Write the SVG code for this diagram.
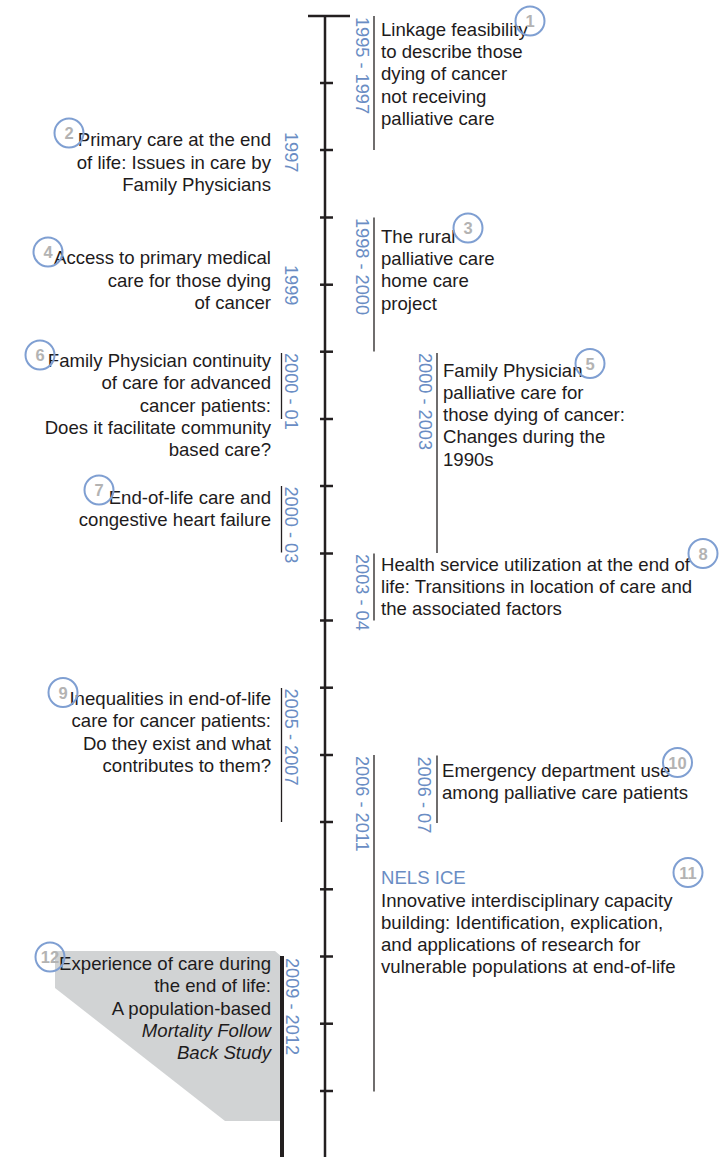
<svg xmlns="http://www.w3.org/2000/svg" width="723" height="1157" viewBox="0 0 723 1157">
<style>
  .t { font-family: "Liberation Sans", Arial, sans-serif; font-size: 18.6px; fill: #1e1b1c; }
  .r { text-anchor: end; }
  .i { font-style: italic; }
  .yr { font-family: "Liberation Sans", Arial, sans-serif; font-size: 18.2px; fill: #6a8dc4; }
  .nels { font-family: "Liberation Sans", Arial, sans-serif; font-size: 18.6px; fill: #6a8dc4; }
  .br { stroke: #231f20; stroke-width: 1.3; fill: none; }
  .ax { stroke: #231f20; stroke-width: 2.5; fill: none; }
  .tk { stroke: #231f20; stroke-width: 2.5; }
  .badge circle { fill: none; stroke: #7f9fd2; stroke-width: 2; }
  .badge text { font-family: "Liberation Sans", Arial, sans-serif; font-size: 16.5px; font-weight: bold; fill: #b3b3b3; text-anchor: middle; }
</style>
<rect width="723" height="1157" fill="#ffffff"/>

<g id="connectors">
  <line class="ax" x1="325" y1="16" x2="325" y2="1157"/>
  <line class="tk" x1="308" y1="16" x2="350" y2="16"/>
  <line class="tk" x1="320" y1="83" x2="333" y2="83"/>
  <line class="tk" x1="320" y1="150" x2="333" y2="150"/>
  <line class="tk" x1="320" y1="217.5" x2="333" y2="217.5"/>
  <line class="tk" x1="320" y1="284.7" x2="333" y2="284.7"/>
  <line class="tk" x1="320" y1="351.7" x2="333" y2="351.7"/>
  <line class="tk" x1="320" y1="419" x2="333" y2="419"/>
  <line class="tk" x1="320" y1="486" x2="333" y2="486"/>
  <line class="tk" x1="320" y1="553.5" x2="333" y2="553.5"/>
  <line class="tk" x1="320" y1="620.5" x2="333" y2="620.5"/>
  <line class="tk" x1="320" y1="687.7" x2="333" y2="687.7"/>
  <line class="tk" x1="320" y1="755" x2="333" y2="755"/>
  <line class="tk" x1="320" y1="822" x2="333" y2="822"/>
  <line class="tk" x1="320" y1="889.3" x2="333" y2="889.3"/>
  <line class="tk" x1="320" y1="956.5" x2="333" y2="956.5"/>
  <line class="tk" x1="320" y1="1023.7" x2="333" y2="1023.7"/>
  <line class="tk" x1="320" y1="1091" x2="333" y2="1091"/>
</g>

<g id="node1">
  <line class="br" x1="374" y1="16" x2="374" y2="150"/>
  <text class="yr" transform="translate(356,17) rotate(90)">1995 - 1997</text>
  <text class="t"><tspan x="381" y="36">Linkage feasibility</tspan><tspan x="381" y="58.2">to describe those</tspan><tspan x="381" y="80.4">dying of cancer</tspan><tspan x="381" y="102.6">not receiving</tspan><tspan x="381" y="124.8">palliative care</tspan></text>
  <g class="badge"><circle cx="530" cy="21" r="14.5"/><text x="530" y="27">1</text></g>
</g>

<g id="node2">
  <text class="yr" transform="translate(285,132) rotate(90)">1997</text>
  <text class="t r"><tspan x="271" y="146">Primary care at the end</tspan><tspan x="271" y="168.5">of life: Issues in care by</tspan><tspan x="271" y="191">Family Physicians</tspan></text>
  <g class="badge"><circle cx="69" cy="133" r="14.5"/><text x="69" y="139">2</text></g>
</g>

<g id="node3">
  <line class="br" x1="374" y1="217.5" x2="374" y2="351.5"/>
  <text class="yr" transform="translate(356,218) rotate(90)">1998 - 2000</text>
  <text class="t"><tspan x="381" y="243">The rural</tspan><tspan x="381" y="265.2">palliative care</tspan><tspan x="381" y="287.4">home care</tspan><tspan x="381" y="309.6">project</tspan></text>
  <g class="badge"><circle cx="468" cy="228" r="14.5"/><text x="468" y="234">3</text></g>
</g>

<g id="node4">
  <text class="yr" transform="translate(285,265) rotate(90)">1999</text>
  <text class="t r"><tspan x="271" y="264">Access to primary medical</tspan><tspan x="271" y="286.5">care for those dying</tspan><tspan x="271" y="309">of cancer</tspan></text>
  <g class="badge"><circle cx="48" cy="252" r="14.5"/><text x="48" y="258">4</text></g>
</g>

<g id="node5">
  <line class="br" x1="437" y1="353" x2="437" y2="553"/>
  <text class="yr" transform="translate(418.5,353) rotate(90)">2000 - 2003</text>
  <text class="t"><tspan x="443" y="376.7">Family Physician</tspan><tspan x="443" y="398.9">palliative care for</tspan><tspan x="443" y="421.1">those dying of cancer:</tspan><tspan x="443" y="443.3">Changes during the</tspan><tspan x="443" y="465.5">1990s</tspan></text>
  <g class="badge"><circle cx="590" cy="363.5" r="14.5"/><text x="590" y="369.5">5</text></g>
</g>

<g id="node6">
  <line class="br" x1="281.5" y1="353" x2="281.5" y2="419"/>
  <text class="yr" transform="translate(285,353) rotate(90)">2000 - 01</text>
  <text class="t r"><tspan x="271" y="367">Family Physician continuity</tspan><tspan x="271" y="389.3">of care for advanced</tspan><tspan x="271" y="411.6">cancer patients:</tspan><tspan x="271" y="433.9">Does it facilitate community</tspan><tspan x="271" y="456.2">based care?</tspan></text>
  <g class="badge"><circle cx="40" cy="355" r="14.5"/><text x="40" y="361">6</text></g>
</g>

<g id="node7">
  <line class="br" x1="281.5" y1="486" x2="281.5" y2="552.5"/>
  <text class="yr" transform="translate(285,486.5) rotate(90)">2000 - 03</text>
  <text class="t r"><tspan x="271" y="504">End-of-life care and</tspan><tspan x="271" y="526.3">congestive heart failure</tspan></text>
  <g class="badge"><circle cx="99" cy="490" r="14.5"/><text x="99" y="496">7</text></g>
</g>

<g id="node8">
  <line class="br" x1="374" y1="553.5" x2="374" y2="620.5"/>
  <text class="yr" transform="translate(356,554) rotate(90)">2003 - 04</text>
  <text class="t"><tspan x="381" y="570.7">Health service utilization at the end of</tspan><tspan x="381" y="592.9">life: Transitions in location of care and</tspan><tspan x="381" y="615.1">the associated factors</tspan></text>
  <g class="badge"><circle cx="703" cy="553.5" r="14.5"/><text x="703" y="559.5">8</text></g>
</g>

<g id="node9">
  <line class="br" x1="281.5" y1="688" x2="281.5" y2="822"/>
  <text class="yr" transform="translate(285,688.5) rotate(90)">2005 - 2007</text>
  <text class="t r"><tspan x="271" y="705">Inequalities in end-of-life</tspan><tspan x="271" y="727.3">care for cancer patients:</tspan><tspan x="271" y="749.6">Do they exist and what</tspan><tspan x="271" y="771.9">contributes to them?</tspan></text>
  <g class="badge"><circle cx="63" cy="692.5" r="14.5"/><text x="63" y="698.5">9</text></g>
</g>

<g id="node11">
  <line class="br" x1="374" y1="755" x2="374" y2="1091.5"/>
  <text class="yr" transform="translate(356,756) rotate(90)">2006 - 2011</text>
  <text class="nels" x="381" y="884">NELS ICE</text>
  <text class="t"><tspan x="381" y="906.5">Innovative interdisciplinary capacity</tspan><tspan x="381" y="928.8">building: Identification, explication,</tspan><tspan x="381" y="951.1">and applications of research for</tspan><tspan x="381" y="973.4">vulnerable populations at end-of-life</tspan></text>
  <g class="badge"><circle cx="688" cy="872.5" r="14.5"/><text x="688" y="878.5">11</text></g>
</g>

<g id="node10">
  <line class="br" x1="437" y1="755.5" x2="437" y2="823"/>
  <text class="yr" transform="translate(417.5,756.5) rotate(90)">2006 - 07</text>
  <text class="t"><tspan x="442" y="776.7">Emergency department use</tspan><tspan x="442" y="798.9">among palliative care patients</tspan></text>
  <g class="badge"><circle cx="677.5" cy="762.5" r="14.5"/><text x="677.5" y="768.5">10</text></g>
</g>

<g id="node12">
  <polygon points="55,951 275,951 282,957 282,1121 225,1121 55,988" fill="#d1d3d4"/>
  <line x1="282" y1="956" x2="282" y2="1157" stroke="#231f20" stroke-width="4"/>
  <text class="yr" transform="translate(286,958) rotate(90)">2009 - 2012</text>
  <text class="t r"><tspan x="271" y="970">Experience of care during</tspan><tspan x="271" y="992.3">the end of life:</tspan><tspan x="271" y="1014.6">A population-based</tspan><tspan class="i" x="271" y="1036.9">Mortality Follow</tspan><tspan class="i" x="271" y="1059.2">Back Study</tspan></text>
  <g class="badge"><circle cx="50" cy="957" r="14.5"/><text x="50" y="963">12</text></g>
</g>
</svg>
